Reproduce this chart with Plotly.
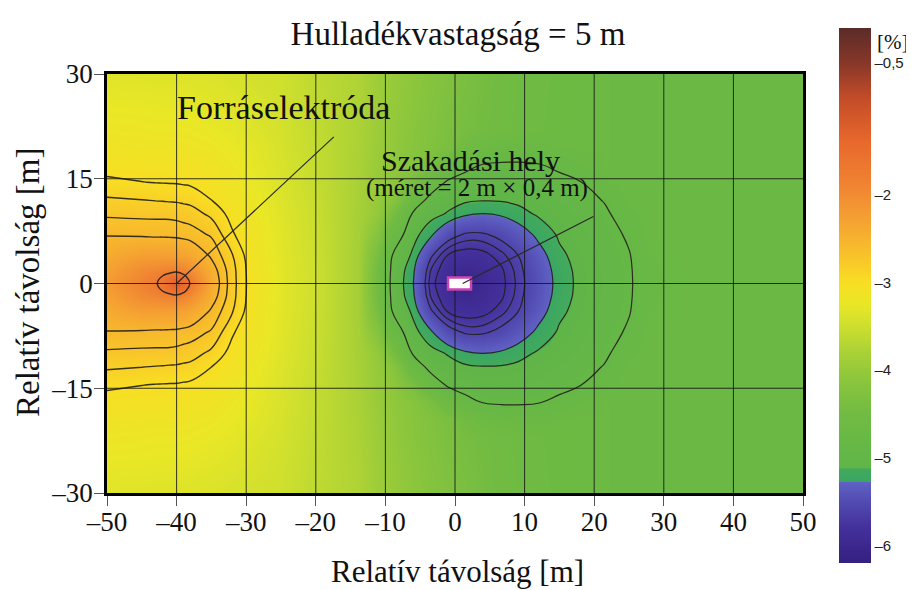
import plotly.graph_objects as go

# ---------------- data ----------------
title_text = "Hulladékvastagság = 5 m"
axis_title = "Relatív távolság [m]"

# grid node positions [m]
x_nodes = [-50, -45, -43, -42, -41, -40, -39, -38, -35, -32, -29, -25, -20, -14, -11, -9, -6, -3.5,
           -1, 1.5, 4, 6.5, 9, 12, 15, 18, 21.5, 25, 28, 34, 42, 50]
y_nodes = [-30, -22, -19.5, -17, -14.5, -12, -10, -7, -4, -2, -1, 0,
           1, 2, 4, 7, 10, 12, 14.5, 17, 19.5, 22, 30]

# estimated values [%] along rows at |y| = 0, 1, 2, 4, 7, 10, 12, 14.5, 17, 19.5, 22, 30
row_0 = [-2.20, -1.88, -1.72, -1.63, -1.38, -1.20, -1.42, -1.73, -2.40, -2.79, -3.10, -3.30, -3.50,
         -3.85, -4.52, -4.95, -5.27, -5.723, -5.935, -6.10, -5.961, -5.832, -5.657, -5.429,
         -5.2045, -5.078, -4.994, -4.903, -4.772, -4.70, -4.70, -4.70]
row_1 = [-2.25, -1.93, -1.80, -1.68, -1.55, -1.45, -1.60, -1.86, -2.42, -2.795, -3.10, -3.30, -3.50,
         -3.85, -4.51, -4.945, -5.26, -5.705, -5.92, -6.06, -5.95, -5.825, -5.65, -5.425,
         -5.20, -5.077, -4.993, -4.902, -4.77, -4.70, -4.70, -4.70]
row_2 = [-2.30, -2.00, -1.94, -1.90, -1.87, -1.84, -1.93, -2.05, -2.46, -2.80, -3.105, -3.30, -3.50,
         -3.85, -4.50, -4.933, -5.244, -5.676, -5.889, -5.98, -5.92, -5.809, -5.638, -5.41,
         -5.19, -5.074, -4.99, -4.90, -4.767, -4.70, -4.70, -4.70]
row_4 = [-2.41, -2.25, -2.25, -2.25, -2.255, -2.26, -2.30, -2.36, -2.58, -2.84, -3.12, -3.31, -3.51,
         -3.85, -4.43, -4.885, -5.16, -5.553, -5.792, -5.857, -5.831, -5.725, -5.587, -5.358,
         -5.153, -5.064, -4.98, -4.891, -4.751, -4.70, -4.70, -4.70]
row_7 = [-2.56, -2.58, -2.59, -2.59, -2.595, -2.60, -2.615, -2.63, -2.72, -2.98, -3.14, -3.32, -3.52,
         -3.84, -4.22, -4.686, -5.056, -5.24, -5.486, -5.603, -5.604, -5.53, -5.397, -5.227,
         -5.097, -5.035, -4.952, -4.854, -4.71, -4.70, -4.70, -4.70]
row_10 = [-2.73, -2.74, -2.74, -2.74, -2.74, -2.75, -2.765, -2.78, -2.89, -3.06, -3.18, -3.34, -3.54,
          -3.83, -4.03, -4.39, -4.912, -5.056, -5.136, -5.242, -5.28, -5.247, -5.176, -5.097,
          -5.047, -4.988, -4.91, -4.785, -4.70, -4.70, -4.70, -4.70]
row_12 = [-2.83, -2.85, -2.86, -2.864, -2.87, -2.874, -2.886, -2.899, -3.002, -3.107, -3.212, -3.36,
          -3.55, -3.82, -4.02, -4.15, -4.707, -4.955, -5.047, -5.088, -5.105, -5.102, -5.084,
          -5.05, -5.004, -4.946, -4.868, -4.728, -4.70, -4.70, -4.70, -4.70]
row_14_5 = [-2.97, -2.997, -3.005, -3.007, -3.01, -3.012, -3.02, -3.028, -3.082, -3.157, -3.245, -3.38,
            -3.57, -3.81, -4.00, -4.07, -4.377, -4.72, -4.915, -4.981, -5.013, -5.02, -5.008,
            -4.977, -4.935, -4.886, -4.767, -4.70, -4.70, -4.70, -4.70, -4.70]
row_17 = [-3.06, -3.07, -3.08, -3.08, -3.085, -3.09, -3.10, -3.11, -3.14, -3.21, -3.28, -3.40, -3.58,
          -3.80, -3.98, -4.05, -4.18, -4.376, -4.638, -4.805, -4.89, -4.908, -4.908, -4.89,
          -4.838, -4.759, -4.68, -4.70, -4.70, -4.70, -4.70, -4.70]
row_19_5 = [-3.135, -3.15, -3.156, -3.156, -3.158, -3.159, -3.165, -3.17, -3.201, -3.25, -3.308,
            -3.42, -3.59, -3.79, -3.96, -4.03, -4.17, -4.26, -4.35, -4.496, -4.623, -4.693,
            -4.719, -4.713, -4.678, -4.66, -4.68, -4.70, -4.70, -4.70, -4.70, -4.70]
row_22 = [-3.19, -3.20, -3.21, -3.21, -3.21, -3.21, -3.215, -3.22, -3.25, -3.29, -3.35, -3.44, -3.60,
          -3.78, -3.95, -4.02, -4.15, -4.25, -4.34, -4.42, -4.47, -4.52, -4.57, -4.61, -4.64,
          -4.66, -4.68, -4.70, -4.70, -4.70, -4.70, -4.70]
row_30 = [-3.33, -3.34, -3.35, -3.35, -3.35, -3.35, -3.355, -3.36, -3.38, -3.41, -3.45, -3.49, -3.63,
          -3.75, -3.92, -3.98, -4.10, -4.20, -4.28, -4.36, -4.44, -4.50, -4.55, -4.60, -4.63,
          -4.65, -4.68, -4.70, -4.70, -4.70, -4.70, -4.70]

z_values = [row_30, row_22, row_19_5, row_17, row_14_5, row_12, row_10, row_7, row_4, row_2, row_1,
            row_0,
            row_1, row_2, row_4, row_7, row_10, row_12, row_14_5, row_17, row_19_5, row_22, row_30]

# contour line levels [%]
source_levels = [-1.7, -2.55, -2.7, -2.85, -3.0]
leak_levels = [-5.78, -5.68, -5.58, -5.275, -5.12, -4.88]

# axis ticks
x_ticks = [-50, -40, -30, -20, -10, 0, 10, 20, 30, 40, 50]
x_ticktext = ["–50", "–40", "–30", "–20", "–10", "0", "10", "20", "30", "40", "50"]
y_ticks = [-30, -15, 0, 15, 30]
y_ticktext = ["–30", "–15", "0", "15", "30"]
cb_ticks = [-0.5, -2, -3, -4, -5, -6]
cb_ticktext = ["–0,5", "–2", "–3", "–4", "–5", "–6"]

# colour scale stops (value -> colour)
z_min, z_max = -6.2, -0.1
cs_values = [-6.2, -5.8, -5.5, -5.28, -5.27, -5.13, -5.11, -4.9, -4.5, -4.1, -3.8, -3.5,
             -3.25, -3.0, -2.7, -2.3, -1.9, -1.4, -0.9, -0.5, -0.1]
cs_colors = ["rgb(52,32,128)", "rgb(68,48,155)", "rgb(82,75,178)", "rgb(96,98,196)",
             "rgb(58,166,100)", "rgb(66,170,92)", "rgb(96,181,72)", "rgb(101,183,70)",
             "rgb(113,187,66)", "rgb(140,198,60)", "rgb(170,209,54)", "rgb(205,223,46)",
             "rgb(233,231,38)", "rgb(248,222,35)", "rgb(248,195,42)", "rgb(245,162,50)",
             "rgb(240,132,50)", "rgb(232,104,44)", "rgb(195,76,40)", "rgb(135,55,40)",
             "rgb(90,44,40)"]

# annotation anchor points [m]
source_point = (-40, 0)
source_label_end = (-17.2, 21.2)
leak_point = (1.1, 0)
leak_label_end = (20.1, 9.7)
leak_rect = (-1.0, 2.3, -0.85, 0.85)

# ---------------- figure ----------------
# the page body adds an 8 px offset, so the figure is 8 px smaller on each side
colorscale = [[(v - z_min) / (z_max - z_min), c] for v, c in zip(cs_values, cs_colors)]

SERIF = "Liberation Serif"
SANS = "Liberation Sans"

fig = go.Figure()
fig.add_trace(go.Heatmap(
    x=x_nodes, y=y_nodes, z=z_values, zsmooth="best",
    colorscale=colorscale, zmin=z_min, zmax=z_max, hoverinfo="skip",
    colorbar=dict(
        x=1.0517, xanchor="left", y=1.1098, yanchor="top",
        len=535, lenmode="pixels", thickness=32, thicknessmode="pixels",
        xpad=0, ypad=0, outlinewidth=0, ticks="",
        tickvals=cb_ticks, ticktext=cb_ticktext,
        tickfont=dict(family=SANS, size=15, color="#222"),
    ),
))

for lev_list, width in ((source_levels, 1.4), (leak_levels, 1.2)):
    for lev in lev_list:
        fig.add_trace(go.Contour(
            x=x_nodes, y=y_nodes, z=z_values, autocontour=False,
            contours=dict(start=lev, end=lev, size=0.1, coloring="none"),
            line=dict(color="rgba(35,30,28,0.9)", width=width, smoothing=1.3),
            showscale=False, hoverinfo="skip", showlegend=False,
        ))

shapes = []
for xv in x_ticks[1:-1]:
    shapes.append(dict(type="line", xref="x", yref="y", x0=xv, x1=xv, y0=-30, y1=30,
                       line=dict(color="rgba(20,20,20,0.85)", width=1), layer="above"))
for yv in y_ticks[1:-1]:
    shapes.append(dict(type="line", xref="x", yref="y", x0=-50, x1=50, y0=yv, y1=yv,
                       line=dict(color="rgba(20,20,20,0.85)", width=1), layer="above"))
shapes.append(dict(type="rect", xref="x", yref="y",
                   x0=leak_rect[0], x1=leak_rect[1], y0=leak_rect[2], y1=leak_rect[3],
                   fillcolor="white", line=dict(color="rgb(200,70,180)", width=2.5), layer="above"))


def label(x, y, text, size, **kw):
    d = dict(x=x, y=y, xref="paper", yref="paper", text=text, showarrow=False,
             xanchor="center", yanchor="middle",
             font=dict(family=SERIF, size=size, color="#111"))
    d.update(kw)
    return d


annotations = [
    dict(x=source_point[0], y=source_point[1], ax=source_label_end[0], ay=source_label_end[1],
         xref="x", yref="y", axref="x", ayref="y", text="", showarrow=True,
         arrowhead=0, arrowwidth=1.2, arrowcolor="#2a2a2a"),
    dict(x=leak_point[0], y=leak_point[1], ax=leak_label_end[0], ay=leak_label_end[1],
         xref="x", yref="y", axref="x", ayref="y", text="", showarrow=True,
         arrowhead=0, arrowwidth=1.2, arrowcolor="#2a2a2a"),
    label(0.2543, 0.9212, "Forráselektróda", 34),
    label(0.5216, 0.7947, "Szakadási hely", 30),
    label(0.5316, 0.7279, "(méret = 2 m × 0,4 m)", 25),
    label(-0.1135, 0.5012, axis_title, 33, textangle=-90),
    label(0.5043, -0.1875, axis_title, 31),
    label(1.1034, 1.0764, "[%]", 21, xanchor="left"),
]

axis_common = dict(
    ticks="outside", ticklen=10, tickwidth=1, tickcolor="#555",
    showgrid=False, zeroline=False, showline=True, linecolor="black",
    linewidth=2.5, mirror=True, tickfont=dict(family=SERIF, size=27, color="#111"),
)

fig.update_layout(
    width=906, height=582,
    margin=dict(l=99, r=111, t=66, b=97, autoexpand=False),
    paper_bgcolor="white", plot_bgcolor="white",
    title=dict(text=title_text, x=0.4967, xanchor="center", y=0.957, yanchor="middle",
               font=dict(family=SERIF, size=33, color="#111")),
    xaxis=dict(range=[-50, 50], tickvals=x_ticks, ticktext=x_ticktext,
               ticklabelstandoff=-7, **axis_common),
    yaxis=dict(range=[-30, 30], tickvals=y_ticks, ticktext=y_ticktext,
               ticklabelstandoff=-4, **axis_common),
    shapes=shapes, annotations=annotations, showlegend=False,
)

fig.write_html("out.html")
